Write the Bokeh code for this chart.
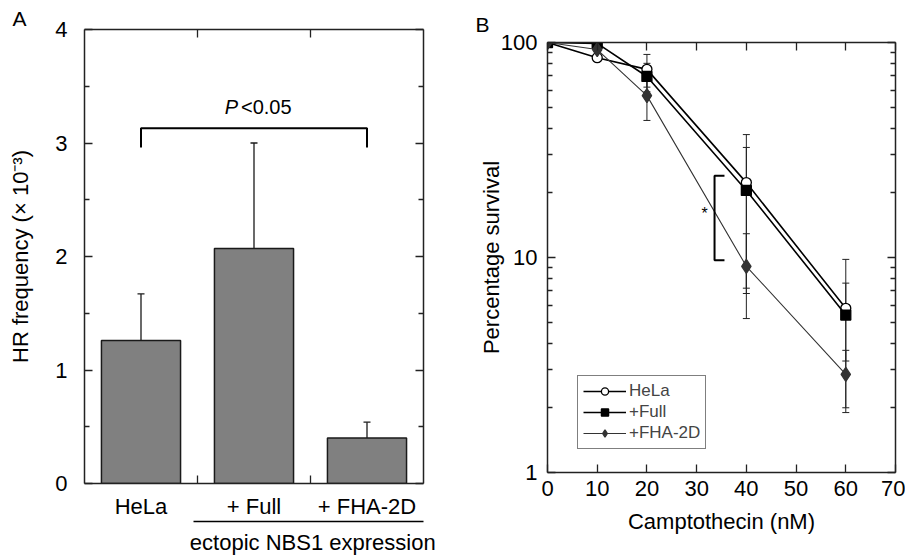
from bokeh.plotting import figure
from bokeh.models import (Range1d, FixedTicker, LinearAxis, LogAxis, Label, Whisker,
                          TeeHead, ColumnDataSource, Legend, LegendItem,
                          CustomJSTickFormatter)
from bokeh.layouts import row, column
from bokeh.embed import file_html
from bokeh.resources import INLINE

# ---------------- data: panel A ----------------
categories = ["HeLa", "+ Full", "+ FHA-2D"]
hr_freq = [1.26, 2.07, 0.40]
hr_low = [0.87, 1.12, 0.25]
hr_high = [1.67, 3.00, 0.54]
hr_yticks = [0, 1, 2, 3, 4]
group_label = "ectopic NBS1 expression"
group_span = (0.965, 3.0)
group_center = 2.02
sig_text = "<0.05"
sig_y = 3.13
sig_leg = 2.96

# ---------------- data: panel B ----------------
dose = [0, 10, 20, 40, 60]
hela = [100, 85, 75, 22.3, 5.8]
full = [100, 99, 69.5, 20.5, 5.4]
fha = [100, 92.7, 56.6, 9.1, 2.86]
err_dose = [20, 40, 60]
hela_lo = [62, 7.2, 1.9]
hela_hi = [88, 37.3, 9.8]
full_lo = [59, 6.8, 3.3]
full_hi = [80, 32.5, 7.6]
fha_lo = [43.4, 5.2, 2.0]
fha_hi = [69.8, 12.9, 3.7]
dose_ticks = [0, 10, 20, 30, 40, 50, 60, 70]
surv_ticks = [1, 10, 100]
star_bracket_x = [35.6, 33.6]
star_bracket_y = [24, 9.7]
star_pos = (31.6, 16)

FONT = "Liberation Sans"
TXT = "22px"


def blank():
    return CustomJSTickFormatter(code="return ''")


def style_axis(ax, size=TXT):
    ax.major_tick_in = 8
    ax.major_tick_out = 0
    ax.minor_tick_in = 5
    ax.minor_tick_out = 0
    ax.axis_line_width = 1.5
    ax.axis_line_color = "#222222"
    ax.major_tick_line_width = 1.3
    ax.minor_tick_line_width = 1.3
    ax.major_tick_line_color = "#222222"
    ax.minor_tick_line_color = "#222222"
    ax.major_label_text_font = FONT
    ax.major_label_text_font_size = size
    ax.major_label_text_color = "black"
    ax.axis_label_text_font = FONT
    ax.axis_label_text_font_size = TXT
    ax.axis_label_text_font_style = "normal"
    ax.axis_label_text_color = "black"


def style_title(p, text, offset, standoff):
    p.title.text = text
    p.title.align = "left"
    p.title.offset = offset
    p.title.standoff = standoff
    p.title.text_font = FONT
    p.title.text_font_size = "21px"
    p.title.text_font_style = "normal"
    p.title.text_color = "black"


# ================= Panel A =================
n = len(categories)
centers = [i + 0.5 for i in range(n)]
bounds = [i for i in range(1, n)]

pA = figure(width=450, height=557, x_range=Range1d(0, n), y_range=Range1d(0, 4),
            output_backend="svg", toolbar_location=None,
            min_border_left=84, min_border_right=27, min_border_top=29, min_border_bottom=72)
pA.grid.visible = False
pA.outline_line_color = None
style_title(pA, "A", -72, 0)

pA.xaxis.ticker = FixedTicker(ticks=centers, minor_ticks=bounds)
pA.xaxis.major_label_overrides = {c: lab for c, lab in zip(centers, categories)}
pA.yaxis.ticker = FixedTicker(ticks=hr_yticks, minor_ticks=[t + 0.5 for t in hr_yticks[:-1]])
pA.yaxis.axis_label = "HR frequency (× 10⁻³)"
for ax in pA.xaxis + pA.yaxis:
    style_axis(ax)
pA.xaxis.major_tick_in = 0
pA.xaxis.minor_tick_in = 8
pA.xaxis.major_label_standoff = 10
pA.yaxis.major_label_standoff = 17
pA.yaxis.axis_label_standoff = 19

# underline + label spanning the ectopic-expression groups
grp_ax = LinearAxis(bounds=group_span, ticker=FixedTicker(ticks=[group_center], minor_ticks=[]))
style_axis(grp_ax)
grp_ax.major_label_overrides = {group_center: group_label}
grp_ax.major_tick_in = 0
grp_ax.minor_tick_in = 0
grp_ax.major_label_standoff = 8
grp_ax.axis_line_color = "black"
pA.add_layout(grp_ax, "below")

top_ax = LinearAxis(ticker=FixedTicker(ticks=centers, minor_ticks=bounds), formatter=blank())
style_axis(top_ax, "10px")
top_ax.major_tick_in = 0
top_ax.minor_tick_in = 8
top_ax.major_label_standoff = 0
pA.add_layout(top_ax, "above")
right_ax = LinearAxis(ticker=FixedTicker(ticks=hr_yticks, minor_ticks=[t + 0.5 for t in hr_yticks[:-1]]),
                      formatter=blank())
style_axis(right_ax, "10px")
right_ax.major_label_standoff = 0
pA.add_layout(right_ax, "right")

srcA = ColumnDataSource(dict(x=centers, top=hr_freq, lo=hr_low, hi=hr_high))
pA.vbar(x="x", top="top", bottom=0, width=0.7, source=srcA,
        fill_color="#808080", line_color="#1a1a1a", line_width=1.5)
pA.add_layout(Whisker(source=srcA, base="x", lower="lo", upper="hi",
                      line_color="#1a1a1a", line_width=1.3,
                      upper_head=TeeHead(size=7, line_width=1.3, line_color="#1a1a1a"),
                      lower_head=TeeHead(size=7, line_width=1.3, line_color="#1a1a1a")))

# significance bracket between first and last group
pA.line(x=[centers[0], centers[0], centers[-1], centers[-1]], y=[sig_leg, sig_y, sig_y, sig_leg],
        line_color="black", line_width=2)
pA.add_layout(Label(x=1.36, y=3.22, text="P", text_align="right", text_font=FONT,
                    text_font_style="italic", text_font_size="20px", text_color="black"))
pA.add_layout(Label(x=1.385, y=3.22, text=sig_text, text_align="left", text_font=FONT,
                    text_font_size="20px", text_color="black"))

# ================= Panel B =================
pB = figure(width=455, height=544, x_range=Range1d(0, 70), y_range=Range1d(1, 100),
            y_axis_type="log", output_backend="svg", toolbar_location=None,
            min_border_left=97, min_border_right=10, min_border_top=42, min_border_bottom=72)
pB.grid.visible = False
pB.outline_line_color = None
style_title(pB, "B", -72, 14)

minor_log = [m * 10 ** e for e in range(0, 2) for m in range(2, 10)]
pB.xaxis.ticker = FixedTicker(ticks=dose_ticks, minor_ticks=[])
pB.yaxis.ticker = FixedTicker(ticks=surv_ticks, minor_ticks=minor_log)
pB.yaxis.major_label_overrides = {t: str(t) for t in surv_ticks}
pB.xaxis.axis_label = "Camptothecin (nM)"
pB.yaxis.axis_label = "Percentage survival"
for ax in pB.xaxis + pB.yaxis:
    style_axis(ax)
pB.xaxis.major_label_standoff = 8
pB.xaxis.axis_label_standoff = 10
pB.yaxis.major_label_standoff = 10
pB.yaxis.axis_label_standoff = -6

topB = LinearAxis(ticker=FixedTicker(ticks=dose_ticks, minor_ticks=[]), formatter=blank())
style_axis(topB, "10px")
topB.major_label_standoff = 0
pB.add_layout(topB, "above")
rightB = LogAxis(ticker=FixedTicker(ticks=surv_ticks, minor_ticks=minor_log), formatter=blank())
style_axis(rightB, "10px")
rightB.major_label_standoff = 0
pB.add_layout(rightB, "right")

series = [
    ("HeLa", hela, hela_lo, hela_hi, "black", 1.6, "circle", "white", 10),
    ("+Full", full, full_lo, full_hi, "black", 1.6, "square", "black", 10),
    ("+FHA-2D", fha, fha_lo, fha_hi, "#333333", 1.1, "diamond", "#333333", 14),
]
items = []
for name, vals, lo, hi, col, lw, mk, fill, size in series:
    esrc = ColumnDataSource(dict(x=err_dose, lo=lo, hi=hi))
    pB.add_layout(Whisker(source=esrc, base="x", lower="lo", upper="hi",
                          line_color="#222222", line_width=1,
                          upper_head=TeeHead(size=7, line_width=1, line_color="#222222"),
                          lower_head=TeeHead(size=7, line_width=1, line_color="#222222")))
for name, vals, lo, hi, col, lw, mk, fill, size in series:
    src = ColumnDataSource(dict(x=dose, y=vals))
    ln = pB.line("x", "y", source=src, line_color=col, line_width=lw)
    sc = pB.scatter("x", "y", source=src, marker=mk, size=size, fill_color=fill,
                    line_color="black" if mk != "diamond" else "#333333", line_width=1.3)
    items.append(LegendItem(label=name, renderers=[ln, sc]))

# significance bracket
pB.line(x=[star_bracket_x[0], star_bracket_x[1], star_bracket_x[1], star_bracket_x[0]],
        y=[star_bracket_y[0], star_bracket_y[0], star_bracket_y[1], star_bracket_y[1]],
        line_color="black", line_width=2)
pB.text(x=[star_pos[0]], y=[star_pos[1]], text=["*"], text_align="center", text_baseline="middle",
        text_font_size="16px", text_color="black")

legend = Legend(items=items, location=(30, 23), border_line_color="black", border_line_width=1.5,
                background_fill_color="white", background_fill_alpha=1,
                label_text_font=FONT, label_text_font_size="17px", glyph_width=43,
                glyph_height=18, label_height=18, spacing=1, padding=5, margin=0,
                label_standoff=3)
pB.add_layout(legend)

layout = row(pA, column(pB))
open("out.html", "w").write(file_html(layout, INLINE))
